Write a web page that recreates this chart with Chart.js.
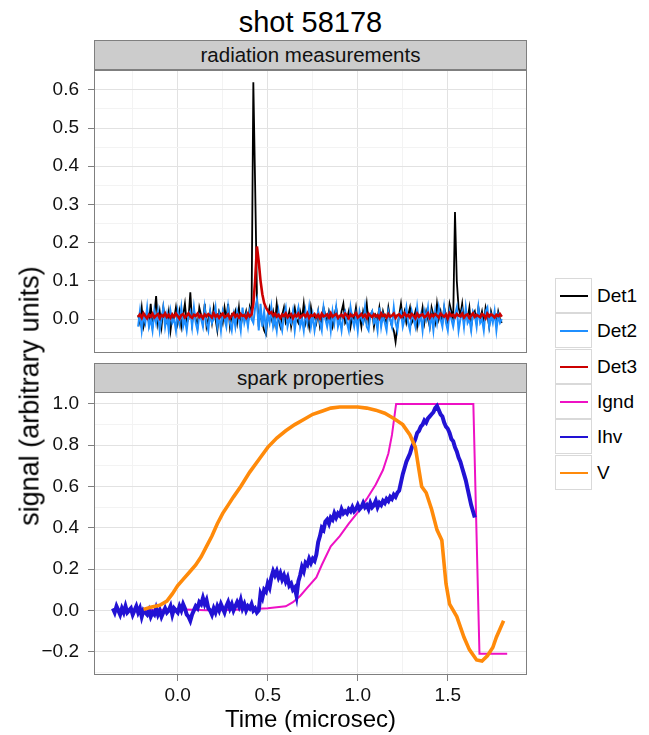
<!DOCTYPE html>
<html lang="en">

<head>
    <meta charset="UTF-8">
    <title>shot 58178</title>
    <script src="https://cdn.jsdelivr.net/npm/chart.js"></script>
    <style>
        body { margin: 0; background: #fff; font-family: "Liberation Sans", Arial, sans-serif; }
        #pagina { position: relative; width: 649px; height: 735px; overflow: hidden; }
        canvas { position: absolute; left: 0; }
        .txt { position: absolute; color: #000; white-space: nowrap; line-height: 1; }
        .titulo { left: 0; width: 621px; top: 8px; font-size: 29px; text-align: center; }
        .strip { position: absolute; left: 94px; width: 431px; height: 28px; background: #cccccc;
                 border: 1px solid #7f7f7f; font-size: 20.5px; line-height: 28px; text-align: center; color: #111; }
        .xtitulo { left: 94px; width: 433px; top: 707px; font-size: 24px; text-align: center; }
        .ytitulo { left: 30px; top: 396px; font-size: 27px; transform: translate(-50%, -50%) rotate(-90deg); }
        .chave { position: absolute; left: 555px; width: 35px; height: 33px; border: 1px solid #d9d9d9; background: #fff; }
        .chave span { position: absolute; left: 4px; width: 28px; top: 16px; height: 2px; }
        .rotulo { position: absolute; left: 597px; font-size: 19px; line-height: 35px; }
    </style>
</head>

<body>
    <div id="pagina">
        <div class="txt titulo">shot 58178</div>
        <div class="strip" style="top:40px">radiation measurements</div>
        <div class="strip" style="top:363px">spark properties</div>
        <canvas id="grafRad" width="527" height="331" style="top:46px"></canvas>
        <canvas id="grafSpark" width="527" height="337" style="top:368px"></canvas>
        <div class="txt xtitulo">Time (microsec)</div>
        <div class="txt ytitulo">signal (arbitrary units)</div>
        <div id="legenda"></div>
    </div>

<script>
    // radiation panel: one sample every 0.01 microsec from radT0
    const radT0 = -0.22
    const radDt = 0.01
    // Det1 and Det2 in units of 0.01, Det3 in units of 0.001
    const det1 = [
        1, -1, 3, -2, 0, 2, -1, 4, -2, 1,
        6, -1, 2, -2, 3, 0, -1, 2, -3, 1,
        0, 3, -1, 2, -2, 1, 4, -1, 0, 7,
        -1, 2, 0, -2, 3, 1, -1, 4, -2, 0,
        2, -1, 3, 0, -3, 2, 1, -1, 3, 0,
        4, -2, 1, 0, 2, -1, 3, -2, 1, 0,
        2, -1, 3, 1, 62, 35, 6, -2, 2, -1,
        -3, -4, 1, 3, 0, 2, -1, 4, 0, -2,
        1, 3, -1, 0, 2, -2, 1, 3, 0, -1,
        2, 0, 4, -1, 1, -2, 3, 0, 1, -1,
        2, -2, 0, 3, 1, -1, 2, 0, -2, 1,
        3, 0, -1, 2, 4, -1, 0, 2, -2, 1,
        0, 3, -1, 1, -2, 2, 0, 4, -1, 1,
        2, -2, 1, 0, 3, -1, 2, 0, -1, 3,
        0, -2, -3, -6, -2, 1, 4, 0, 2, -1,
        1, 3, -1, 0, 2, -2, 1, 0, 3, -1,
        2, 0, -2, 3, 1, -1, 4, 0, 2, -1,
        3, 1, -1, 4, 2, 0, 28, 10, 3, 1,
        4, -1, 2, 0, 3, -2, 1, 2, -1, 3,
        0, 2, -1, 3, 1, -2, 2, 0, 1, -1,
        2, 0, -1
    ]
    const det2 = [
        -2, 2, -3, 1, -1, 3, -2, 0, -3, 2,
        -1, 2, -3, 0, 3, -2, 1, -3, 2, -1,
        0, -3, 2, -1, 3, -2, 0, -3, 1, 2,
        -2, 3, -1, -3, 1, 0, -2, 3, -1, -3,
        2, -1, 0, 3, -2, 1, -3, 2, 0, -2,
        3, -1, -3, 1, -2, 2, 0, -3, 3, -1,
        1, -2, 2, 0, -1, 3, 5, -3, 4, -2,
        2, -3, 1, -1, 3, -2, 0, -3, 2, -1,
        -3, 1, 3, -2, 0, -1, 2, -3, 1, 3,
        -2, 0, -3, 2, -1, 3, -2, 1, -3, 0,
        2, -1, -3, 3, 0, -2, 1, -3, 2, -1,
        3, -2, 0, -3, 1, 2, -1, -3, 3, 0,
        -2, 1, -3, 2, 0, -1, 3, -2, -3, 1,
        2, -1, 0, -3, 3, -2, 1, -1, -3, 2,
        0, -2, 3, -1, -3, 1, 2, -2, 0, 3,
        -1, -3, 2, 0, -2, 3, -1, 1, -3, 2,
        0, 3, -2, 1, -3, 2, -1, 3, 0, -2,
        3, -1, -3, 2, 0, -2, 1, 3, -3, 0,
        2, -2, 3, -1, 0, -3, 2, 1, -2, 3,
        -1, 0, -3, 2, 3, -2, 1, -1, 2, -3,
        1, -1, 0
    ]
    const det3 = [
        5, 12, 3, 15, 8, 2, 11, 6, 14, 4,
        9, 13, 2, 10, 7, 15, 5, 11, 3, 12,
        6, 14, 8, 1, 10, 13, 4, 9, 15, 7,
        3, 11, 8, 14, 5, 10, 2, 12, 7, 13,
        9, 4, 15, 6, 11, 3, 10, 14, 5, 8,
        12, 2, 9, 15, 6, 11, 4, 13, 8, 10,
        3, 14, 7, 12, 40, 100, 190, 150, 100, 65,
        42, 30, 22, 15, 18, 9, 14, 6, 11, 3,
        12, 8, 15, 5, 10, 13, 2, 11, 7, 14,
        4, 9, 12, 6, 15, 3, 10, 8, 13, 5,
        11, 2, 14, 7, 9, 12, 4, 15, 6, 10,
        13, 3, 8, 11, 5, 14, 9, 2, 12, 7,
        10, 15, 4, 8, 13, 6, 11, 3, 14, 9,
        5, 12, 7, 10, 2, 15, 8, 11, 4, 13,
        6, 9, 14, 3, 10, 12, 5, 8, 15, 7,
        11, 4, 13, 9, 2, 14, 6, 10, 12, 5,
        8, 15, 3, 11, 7, 13, 9, 4, 14, 10,
        6, 12, 2, 15, 8, 11, 5, 13, 9, 7,
        14, 4, 10, 12, 3, 9, 15, 6, 11, 8,
        5, 13, 10, 2, 14, 7, 12, 9, 4, 11,
        8, 13, 6
    ]

    // spark panel: Ihv sampled every 0.01 microsec from ihvT0, units of 0.01
    const ihvT0 = -0.36
    const ihvDt = 0.01
    const ihv = [
        1, -1, 2, 0, -2, 1, -1, 2, -1, 0,
        1, -2, 0, 2, -1, 1, -3, 0, -1, -2,
        0, -3, -1, -2, 1, -2, 0, -3, -1, 1,
        -1, 0, 2, -2, 1, 0, -1, 2, 0, 3,
        1, -2, -3, -5, -2, 0, 2, 1, 4, 3,
        6, 3, 5, 1, 0, -2, 1, -1, 2, 0,
        3, 1, -1, 2, 4, 1, 3, 0, 2, 4,
        2, 5, 1, 3, 0, 2, 1, 3, 0, 1,
        -1, 0, 8, 6, 10, 9, 13, 11, 16, 19,
        17, 19, 16, 18, 15, 17, 14, 16, 12, 13,
        10, 11, 7, 14, 17, 21, 19, 23, 22, 25,
        23, 25, 24, 27, 33, 36, 40, 39, 43, 44,
        42, 45, 44, 47, 45, 47, 46, 49, 47, 48,
        47, 49, 48, 50, 48, 49, 51, 49, 50, 52,
        50, 51, 49, 52, 50, 51, 53, 50, 52, 51,
        53, 52, 54, 53, 55, 54, 56, 55, 57, 58,
        62, 66, 69, 72, 74, 76, 79, 81, 83, 86,
        87, 89, 90, 92, 91, 93, 94, 95, 96, 98,
        99, 97, 95, 94, 91, 89, 88, 86, 83, 82,
        79, 77, 74, 72, 69, 66, 63, 59, 55, 51,
        48, 45
    ]
    const igndTempo = [-0.2, 0.0, 0.2, 0.4, 0.5, 0.55, 0.6, 0.64, 0.68, 0.72, 0.77, 0.8, 0.85, 0.9, 0.95,
        1.0, 1.05, 1.1, 1.14, 1.17, 1.19, 1.213, 1.642, 1.676, 1.83]
    const igndValor = [0.0, 0.005, 0.0, 0.005, 0.01, 0.015, 0.02, 0.04, 0.07, 0.11, 0.16, 0.22, 0.31, 0.36, 0.42,
        0.475, 0.54, 0.61, 0.68, 0.76, 0.85, 1.0, 1.0, -0.21, -0.21]
    const vTempo = [-0.19, -0.15, -0.10, -0.06, -0.03, 0.00, 0.03, 0.06, 0.10, 0.13, 0.16, 0.19, 0.22, 0.25, 0.28,
        0.31, 0.35, 0.40, 0.45, 0.50, 0.55, 0.60, 0.65, 0.70, 0.75, 0.80, 0.85, 0.90, 0.95, 1.00,
        1.05, 1.10, 1.15, 1.20, 1.25, 1.29, 1.32, 1.34, 1.355, 1.38, 1.41, 1.44, 1.467, 1.49, 1.51,
        1.55, 1.59, 1.62, 1.66, 1.69, 1.72, 1.75, 1.77, 1.79, 1.81]
    const vValor = [0.005, 0.015, 0.025, 0.045, 0.08, 0.12, 0.15, 0.18, 0.22, 0.26, 0.31, 0.36, 0.42, 0.47, 0.51,
        0.55, 0.60, 0.67, 0.73, 0.79, 0.835, 0.87, 0.90, 0.925, 0.95, 0.965, 0.98, 0.985, 0.985, 0.985,
        0.98, 0.97, 0.955, 0.93, 0.90, 0.85, 0.79, 0.68, 0.60, 0.57, 0.49, 0.39, 0.34, 0.13, 0.03,
        -0.03, -0.13, -0.19, -0.24, -0.245, -0.22, -0.18, -0.13, -0.09, -0.05]

    // ticks
    const xMaior = [0, 0.5, 1.0, 1.5]
    const xMenor = [-0.25, 0.25, 0.75, 1.25, 1.75]
    const yRadMaior = [0, 0.1, 0.2, 0.3, 0.4, 0.5, 0.6]
    const yRadMenor = [-0.05, 0.05, 0.15, 0.25, 0.35, 0.45, 0.55, 0.65]
    const ySparkMaior = [-0.2, 0, 0.2, 0.4, 0.6, 0.8, 1.0]
    const ySparkMenor = [-0.3, -0.1, 0.1, 0.3, 0.5, 0.7, 0.9]

    const series = ['Det1', 'Det2', 'Det3', 'Ignd', 'Ihv', 'V']
    const cores = ['#000000', '#1f8fff', '#cc0000', '#ee11c4', '#2212d4', '#ff8a0a']

    function amostras(t0, dt, valores, div) {
        return valores.map((v, i) => ({ x: +(t0 + i * dt).toFixed(4), y: v / div }))
    }
    function pares(tempos, valores) {
        return tempos.map((t, i) => ({ x: t, y: valores[i] }))
    }
    function rotulo(v) {
        const s = Math.abs(v).toFixed(1)
        return v < -1e-9 ? '\u2212' + s : s
    }

    function escala(min, max, maiores, menores, comRotulo, tamanho) {
        const ehMaior = v => maiores.some(m => Math.abs(m - v) < 1e-9)
        return {
            type: 'linear', min: min, max: max,
            border: { display: false },
            afterBuildTicks: s => {
                s.ticks = maiores.concat(menores).sort((a, b) => a - b).map(v => ({ value: v }))
            },
            afterFit: tamanho,
            grid: {
                color: c => (c.tick && ehMaior(c.tick.value)) ? '#e2e2e2' : '#f3f3f3',
                tickColor: c => (c.tick && ehMaior(c.tick.value)) ? '#7f7f7f' : 'rgba(0,0,0,0)',
                drawTicks: comRotulo,
                tickLength: 6,
                lineWidth: 1
            },
            ticks: {
                display: comRotulo,
                autoSkip: false,
                maxRotation: 0,
                color: '#111',
                font: { family: '"Liberation Sans", Arial, sans-serif', size: 19 },
                callback: v => ehMaior(v) ? rotulo(v) : ''
            }
        }
    }

    const moldura = {
        id: 'moldura',
        afterDraw(chart) {
            const a = chart.chartArea
            const ctx = chart.ctx
            ctx.save()
            ctx.strokeStyle = '#7f7f7f'
            ctx.lineWidth = 1
            ctx.strokeRect(a.left + 0.5, a.top + 0.5, a.right - a.left - 1, a.bottom - a.top - 1)
            ctx.restore()
        }
    }

    function linha(nome, dados, largura) {
        const k = series.indexOf(nome)
        return {
            label: nome, data: dados,
            borderColor: cores[k], borderWidth: largura,
            pointRadius: 0, tension: 0, fill: false
        }
    }

    const opcoesBase = {
        responsive: false,
        animation: false,
        events: [],
        plugins: { legend: { display: false }, tooltip: { enabled: false } }
    }

    // top panel (Det3 listed first so it is drawn on top)
    const yRad = escala(-0.089, 0.652, yRadMaior, yRadMenor, true, s => { s.width = 94 })
    yRad.ticks.padding = 9
    new Chart(document.getElementById('grafRad'), {
        type: 'line',
        data: {
            datasets: [
                linha('Det3', amostras(radT0, radDt, det3, 1000), 2.6),
                linha('Det2', amostras(radT0, radDt, det2, 100), 2),
                linha('Det1', amostras(radT0, radDt, det1, 100), 1.8)
            ]
        },
        options: Object.assign({}, opcoesBase, {
            layout: { padding: { top: 24, bottom: 24, left: 0, right: 0 } },
            scales: {
                x: escala(-0.465, 1.94, xMaior, xMenor, false, s => { s.height = 0 }),
                y: yRad
            }
        }),
        plugins: [moldura]
    })

    // bottom panel
    const ySpark = escala(-0.313, 1.058, ySparkMaior, ySparkMenor, true, s => { s.width = 94 })
    ySpark.ticks.padding = 9
    const xSpark = escala(-0.465, 1.94, xMaior, xMenor, true, s => { s.height = 30 })
    xSpark.ticks.padding = 3
    new Chart(document.getElementById('grafSpark'), {
        type: 'line',
        data: {
            datasets: [
                linha('V', pares(vTempo, vValor), 3.6),
                linha('Ihv', amostras(ihvT0, ihvDt, ihv, 100), 4),
                linha('Ignd', pares(igndTempo, igndValor), 2)
            ]
        },
        options: Object.assign({}, opcoesBase, {
            layout: { padding: { top: 24, bottom: 0, left: 0, right: 0 } },
            scales: { x: xSpark, y: ySpark }
        }),
        plugins: [moldura]
    })

    // legend
    const legenda = document.getElementById('legenda')
    series.forEach((nome, i) => {
        const topo = 278 + i * 35.3
        legenda.innerHTML += `<div class="chave" style="top:${topo}px"><span style="background:${cores[i]}"></span></div>` +
            `<div class="txt rotulo" style="top:${topo}px">${nome}</div>`
    })
</script>
</body>

</html>
